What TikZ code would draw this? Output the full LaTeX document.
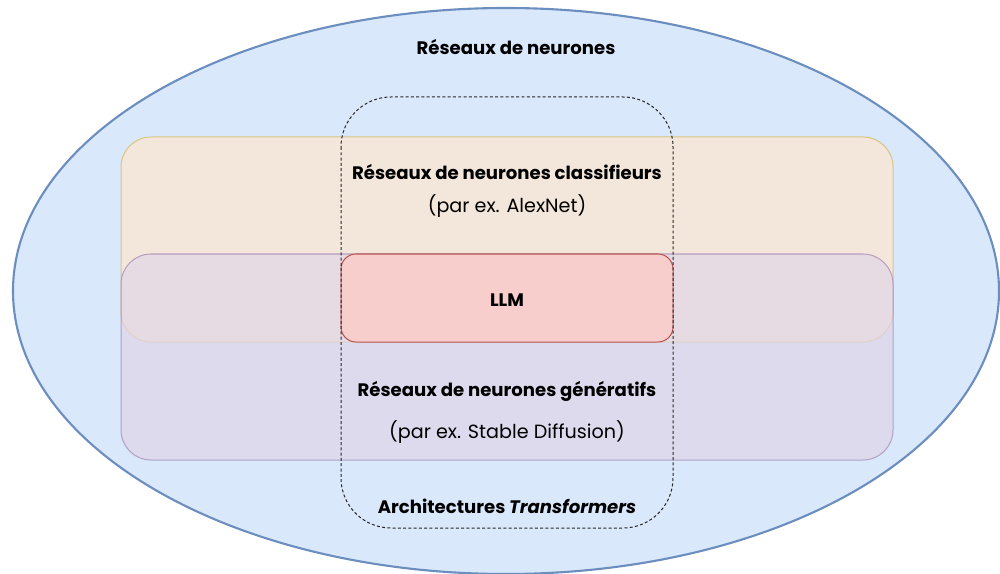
\documentclass[tikz,border=0pt]{standalone}
\usepackage{fontspec}
\setmainfont{Poppins}
\begin{document}
\begin{tikzpicture}[x=0.02cm,y=-0.02cm,
  lbl/.style={font=\fontsize{10.9}{13}\selectfont, inner sep=0pt, text=black},
  lblb/.style={lbl, font=\fontsize{10.3}{12}\selectfont\bfseries},
  groupbox/.style={line width=0.57pt, rounded corners=0.6cm},
]
\definecolor{nnfill}{HTML}{DAE8FC}
\definecolor{nnline}{HTML}{6C8EBF}
\definecolor{clsfill}{HTML}{FFE6CC}
\definecolor{clsline}{HTML}{D6B656}
\definecolor{genfill}{HTML}{E1D5E7}
\definecolor{genline}{HTML}{9673A6}
\definecolor{llmfill}{HTML}{F8CECC}
\definecolor{llmline}{HTML}{B85450}
\useasboundingbox (0,0) rectangle (1000,574);
% outer set: neural networks
\draw[fill=nnfill, draw=nnline, line width=1.2pt] (506,291) ellipse [x radius=493, y radius=283];
% classifier networks
\draw[groupbox, fill=clsfill, draw=clsline, fill opacity=0.7, draw opacity=0.7] (121,137) rectangle (893,342);
% generative networks
\draw[groupbox, fill=genfill, draw=genline, fill opacity=0.7, draw opacity=0.6] (121,254) rectangle (893,460);
% intersection: LLM
\draw[fill=llmfill, draw=llmline, line width=0.57pt, rounded corners=0.3cm] (341,254) rectangle (673,342);
% transformer architectures
\draw[black!85, line width=0.57pt, dash pattern=on 1.7pt off 1.3pt, rounded corners=1cm] (341,97) rectangle (673,528);
% labels
\node[lblb] (tnn)  at (516,47)  {Réseaux de neurones};
\node[lblb] (tcls) at (507,172) {Réseaux de neurones classifieurs};
\node[lbl]  (ecls) at (507,206) {(par ex. AlexNet)};
\node[lblb] (tllm) at (507,300) {LLM};
\node[lblb] (tgen) at (507,391) {Réseaux de neurones génératifs};
\node[lbl]  (egen) at (507,432) {(par ex. Stable Diffusion)};
\node[lblb] (ttr)  at (507,506) {Architectures \textit{Transformers}};
\end{tikzpicture}
\end{document}
